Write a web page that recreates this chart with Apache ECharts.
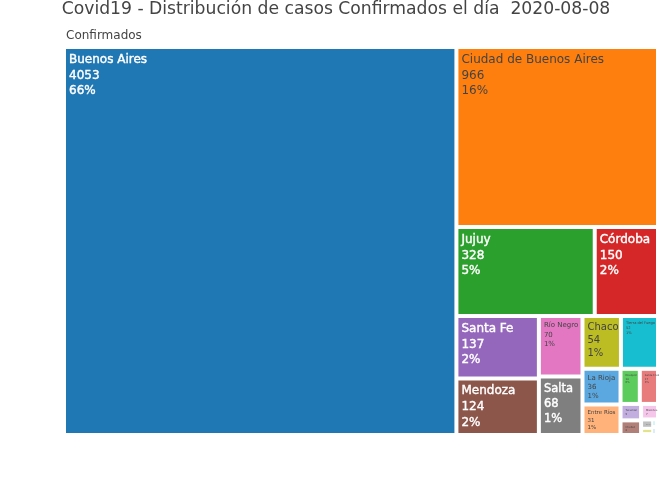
<!DOCTYPE html>
<html>
<head>
<meta charset="utf-8">
<script src="https://cdn.jsdelivr.net/npm/echarts@6/dist/echarts.min.js"></script>
<style>
  html, body { margin: 0; padding: 0; background: #fff; }
  #main { width: 672px; height: 480px; }
</style>
</head>
<body>
<div id="main"></div>
<script>
var provinces = ['Buenos Aires', 'Ciudad de Buenos Aires', 'Jujuy', 'Córdoba', 'Santa Fe', 'Mendoza', 'Río Negro', 'Salta', 'Chaco', 'Tierra del Fuego', 'La Rioja', 'Entre Ríos', 'Neuquén', 'Santa Cruz', 'Tucumán', 'Chubut', 'Misiones', 'Corrientes', 'San Juan', 'Catamarca', 'Formosa'];
var confirmed = [4053, 966, 328, 150, 137, 124, 70, 68, 54, 52, 36, 31, 18, 17, 9, 8, 7, 3, 2, 1, 1];
var palette = ['#1f77b4', '#ff7f0e', '#2ca02c', '#d62728', '#9467bd', '#8c564b', '#e377c2', '#7f7f7f', '#bcbd22', '#17becf', '#5ba8e0', '#ffb27a', '#5ccc5c', '#e87c7d', '#c3aee0', '#b07f78', '#f5c6ea', '#bfbfbf', '#e3e48a', '#9be6ef', '#a8d4f5'];
var labelSizes = [12, 12, 12, 12, 12, 12, 7, 11.5, 10, 3.6, 7, 5.5, 2.6, 2.6, 2.6, 2.6, 2.6, 1, 1, 1, 1];
var whiteText = ['Buenos Aires', 'Jujuy', 'Córdoba', 'Santa Fe', 'Mendoza', 'Salta'];

// agrupamiento de las filas y columnas del treemap, por indice de provincia
var tileTree = [0, [1, [2, 3, [4, 5, [6, 7, [8, 9, [10, 11, [12, 13, [14, 15, [16, [17, 18, 19, 20]]]]]]]]]]];

var total = confirmed.reduce(function(a, b) { return a + b; }, 0);

function buildNode(entry) {
  if (Array.isArray(entry)) {
    var children = entry.map(buildNode);
    return {
      name: '',
      value: children.reduce(function(a, c) { return a + c.value; }, 0),
      children: children,
    };
  }
  var isWhite = whiteText.indexOf(provinces[entry]) >= 0;
  var size = labelSizes[entry];
  return {
    name: provinces[entry],
    value: confirmed[entry],
    itemStyle: { color: palette[entry] },
    label: {
      fontSize: size,
      lineHeight: size * 1.3,
      color: isWhite ? '#fff' : '#444',
      textBorderColor: isWhite ? '#fff' : 'transparent',
      textBorderWidth: isWhite ? 0.4 : 0,
    },
  };
}

var chart = echarts.init(document.getElementById('main'));
chart.setOption({
  animation: false,
  textStyle: { fontFamily: '"DejaVu Sans", sans-serif' },
  title: [
    {
      text: 'Covid19 - Distribución de casos Confirmados el día  2020-08-08',
      left: 331,
      textAlign: 'center',
      top: -4,
      textStyle: { fontSize: 17.2, fontWeight: 'normal', color: '#444', fontFamily: '"DejaVu Sans", sans-serif' },
    },
    {
      text: 'Confirmados',
      left: 61,
      top: 25,
      textStyle: { fontSize: 12, fontWeight: 'normal', color: '#444', fontFamily: '"DejaVu Sans", sans-serif' },
    },
  ],
  series: [
    {
      type: 'treemap',
      left: 66,
      top: 49,
      width: 590,
      height: 384,
      roam: false,
      nodeClick: false,
      breadcrumb: { show: false },
      visibleMin: 0,
      sort: false,
      label: {
        show: true,
        position: 'insideTopLeft',
        padding: [3, 0, 0, 3],
        overflow: 'none',
        fontFamily: '"DejaVu Sans", sans-serif',
        formatter: function(p) {
          return p.name + '\n' + p.value + '\n' + Math.round(p.value / total * 100) + '%';
        },
      },
      upperLabel: { show: false },
      itemStyle: { borderWidth: 0, borderColor: '#fff', gapWidth: 4, color: '#fff' },
      data: buildNode(tileTree).children,
    },
  ],
});
</script>
</body>
</html>
